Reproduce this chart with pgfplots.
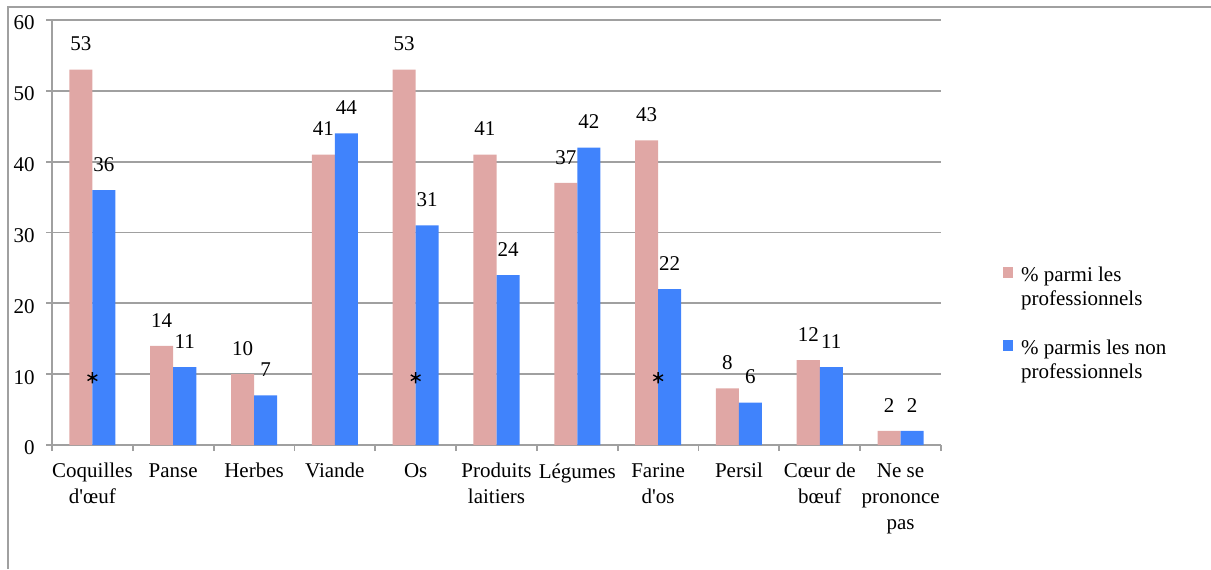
\documentclass[border=0pt]{standalone}
\usepackage{fontspec}
\setmainfont{Liberation Serif}
\usepackage{pgfplots}
\pgfplotsset{compat=1.18}
\definecolor{pro}{RGB}{224,167,165}
\definecolor{nonpro}{RGB}{64,131,252}
\definecolor{gridgray}{RGB}{160,160,160}
\begin{document}
\fontsize{10.5}{12}\selectfont
\begin{tikzpicture}
\useasboundingbox (0,0) rectangle (605.5pt,284.5pt);
\draw[gridgray, line width=1pt] (4pt,0) -- (4pt,281pt) -- (605.5pt,281pt);
\begin{axis}[
  at={(26pt,62pt)}, anchor=south west,
  scale only axis, width=444.5pt, height=212.5pt,
  xmin=-0.5, xmax=10.5, ymin=0, ymax=60,
  axis x line*=bottom, axis y line*=left,
  axis line style={gridgray, line width=0.9pt, -},
  tick style={gridgray, line width=0.9pt},
  major tick length=3pt, tick align=outside,
  ymajorgrids, major grid style={gridgray, line width=0.9pt},
  ytick={0,10,20,30,40,50,60},
  xtick={-0.5,0.5,1.5,2.5,3.5,4.5,5.5,6.5,7.5,8.5,9.5,10.5},
  x tick label as interval,
  xticklabels={Coquilles\\d\textquotesingle œuf, Panse, Herbes, Viande, Os, Produits\\laitiers,
    Légumes, Farine\\d\textquotesingle os, Persil, Cœur de\\bœuf, Ne se\\prononce\\pas},
  /pgf/number format/assume math mode=true,
  tick label style={font=\fontsize{10.5}{12}\selectfont, text=black},
  xticklabel style={align=center, font=\fontsize{10.5}{13}\selectfont, yshift=-2.5pt},
  yticklabel style={xshift=-2pt, yshift=-1.5pt},
  nodes near coords style={anchor=base, yshift=9.3pt, text=black,
    font=\fontsize{10.5}{12}\selectfont},
  legend image code/.code={\fill[#1] (0pt,1.8pt) rectangle (5.2pt,7pt);},
  legend style={draw=none, fill=none, at={(1.069,0.435)}, anchor=north west,
    inner sep=0pt, column sep=2pt, row sep=22.6pt,
    font=\fontsize{10.5}{12}\selectfont,
    cells={anchor=base west, inner sep=0pt}},
]
\addplot[ybar, bar width=0.285, bar shift=-0.1425, fill=pro, draw=none, nodes near coords,
    every node near coord/.append style={xshift=-5.76pt}]
  coordinates {(0,53) (1,14) (2,10) (3,41) (4,53) (5,41) (6,37) (7,43) (8,8) (9,12) (10,2)};
\addlegendentry{\begin{tabular}[t]{@{}l@{}}\% parmi les\\professionnels\end{tabular}}
\addplot[ybar, bar width=0.285, bar shift=0.1425, fill=nonpro, draw=none, nodes near coords,
    every node near coord/.append style={xshift=5.76pt}]
  coordinates {(0,36) (1,11) (2,7) (3,44) (4,31) (5,24) (6,42) (7,22) (8,6) (9,11) (10,2)};
\addlegendentry{\begin{tabular}[t]{@{}l@{}}\% parmis les non\\professionnels\end{tabular}}
\addplot[only marks, mark=asterisk, mark size=2.8pt, black, line width=0.7pt, forget plot]
  coordinates {(0,9.5) (4,9.5) (7,9.5)};
\end{axis}
\end{tikzpicture}
\end{document}
